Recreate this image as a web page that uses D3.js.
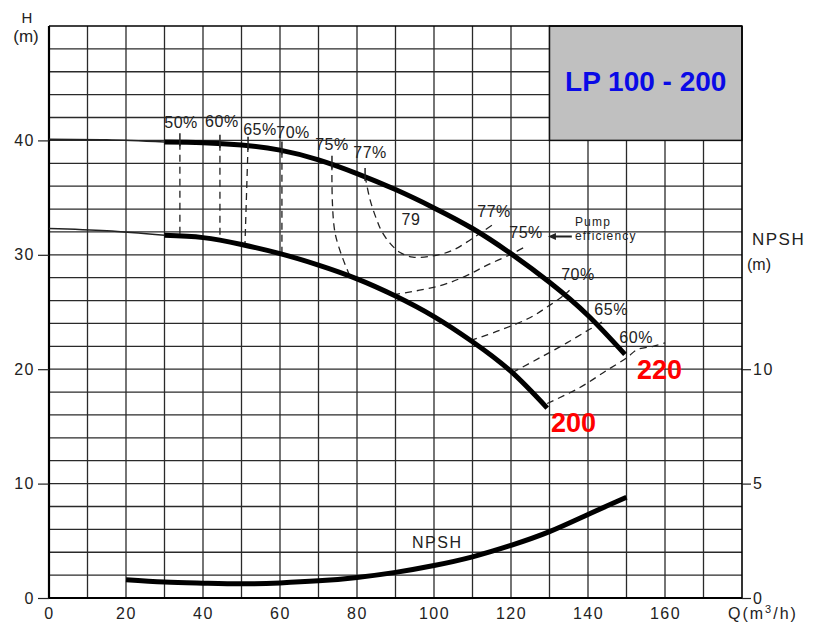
<!DOCTYPE html>
<html>
<head>
<meta charset="utf-8">
<script src="https://cdn.jsdelivr.net/npm/d3@7"></script>
<style>
  body { margin: 0; background: #fff; }
  svg { display: block; }
  text { font-family: "Liberation Sans", Arial, sans-serif; }
</style>
</head>
<body>
<svg id="chart" width="814" height="627"></svg>
<script>
// pump curves, Q in m3/h, H in m
const curve220 = [[30, 39.85], [40, 39.8], [50, 39.6], [60, 39.15], [70, 38.3], [80, 37.1], [90, 35.7],
  [100, 34.1], [110, 32.3], [120, 30.1], [130, 27.6], [140, 24.7], [149.6, 21.3]];
const curve200 = [[30, 31.7], [40, 31.5], [50, 30.9], [60, 30.1], [70, 29.1], [80, 27.9], [90, 26.4],
  [100, 24.6], [110, 22.4], [120, 19.8], [129.4, 16.6]];
// thin shut-off extensions to Q = 0
const lead220 = [[0, 40.1], [15, 40.05], [30, 39.85]];
const lead200 = [[0, 32.3], [15, 32.1], [30, 31.7]];

// NPSH required (m)
const npshQ = [20, 30, 40, 50, 60, 70, 80, 90, 100, 110, 120, 130, 140, 150];
const npshVal = [0.8, 0.7, 0.65, 0.62, 0.66, 0.75, 0.9, 1.12, 1.42, 1.8, 2.3, 2.9, 3.65, 4.4];

// iso-efficiency lines (dashed)
const effLines = [
  [[34, 39.8], [34, 31.6]],
  [[44.4, 39.7], [44.4, 31.5]],
  [[51.7, 39.6], [50.9, 30.9]],
  [[60.5, 39.1], [60.5, 30.1]],
  [[73.5, 38.0], [74.3, 31.9], [78.2, 28.1]],
  [[82.1, 36.9], [83.4, 34.8], [85.2, 33.0], [86.5, 32.0], [88.6, 31.0], [91.2, 30.2], [94.5, 29.8],
   [99.7, 29.9], [104.9, 30.4], [109.4, 31.3], [112.5, 32.0], [115.1, 32.6]],
  [[89.4, 26.5], [101.6, 27.3], [108.6, 28.2], [113.8, 29.1], [120.3, 30.1], [124.2, 30.8]],
  [[109.4, 22.5], [117.1, 23.4], [124.9, 24.5], [130.1, 25.6], [133.5, 26.4], [135.2, 26.9]],
  [[120.3, 19.7], [127.5, 21.0], [134.5, 22.3], [140, 23.4], [143.1, 24.0], [144.5, 24.4]],
  [[129.4, 17.0], [137.9, 18.4], [144.9, 19.9], [150.1, 21.0], [152.7, 21.7], [156.9, 22.0], [160, 22.3]]
];
// short ticks where the left iso-lines meet the 220 curve
const effTicksQ = [34, 44.4, 51.7, 60.5, 73.5, 82.1];

const effLabels = ["50%", "60%", "65%", "70%", "75%", "77%", "77%", "75%", "70%", "65%", "60%", "79"];
const effLabelQ = [34.3, 44.9, 54.8, 63.4, 73.5, 83.4, 115.6, 123.9, 137.4, 146, 152.5, 94];
const effLabelH = [41.1, 41.2, 40.5, 40.2, 39.2, 38.5, 33.3, 31.5, 27.8, 24.7, 22.3, 32.6];

const xTicks = [0, 20, 40, 60, 80, 100, 120, 140, 160];
const hTicks = [0, 10, 20, 30, 40];
const npshTicks = [0, 5, 10];
const title = "LP 100 - 200";

const svg = d3.select("#chart");
const x = d3.scaleLinear().domain([0, 180]).range([49, 742]);
const y = d3.scaleLinear().domain([0, 50]).range([598, 26]);
const yN = d3.scaleLinear().domain([0, 25]).range([598, 26]);
const ink = "#222";

// grid
const grid = svg.append("g").attr("stroke", "#2a2a2a").attr("stroke-width", 1.3);
grid.selectAll("line.v").data(d3.range(10, 180, 10)).join("line")
  .attr("x1", d => x(d)).attr("x2", d => x(d)).attr("y1", y(0)).attr("y2", y(50));
grid.selectAll("line.h").data(d3.range(2, 50, 2)).join("line")
  .attr("x1", x(0)).attr("x2", x(180)).attr("y1", d => y(d)).attr("y2", d => y(d));

// title box
svg.append("rect")
  .attr("x", x(130)).attr("y", y(50)).attr("width", x(180) - x(130)).attr("height", y(40) - y(50))
  .attr("fill", "#c0c0c0").attr("stroke", "#111").attr("stroke-width", 1.5);
svg.append("text")
  .attr("x", (x(130) + x(180)) / 2).attr("y", (y(50) + y(40)) / 2 + 8)
  .attr("text-anchor", "middle").attr("font-size", 28).attr("font-weight", "bold")
  .attr("fill", "#0a0ae6").text(title);

// frame
svg.append("line").attr("x1", x(0)).attr("x2", x(0)).attr("y1", y(0)).attr("y2", y(50))
  .attr("stroke", "#000").attr("stroke-width", 2.2);
svg.append("line").attr("x1", x(0)).attr("x2", x(180)).attr("y1", y(0)).attr("y2", y(0))
  .attr("stroke", "#000").attr("stroke-width", 2.2);
svg.append("line").attr("x1", x(180)).attr("x2", x(180)).attr("y1", y(0)).attr("y2", y(50))
  .attr("stroke", "#000").attr("stroke-width", 1.6);
svg.append("line").attr("x1", x(0)).attr("x2", x(180)).attr("y1", y(50)).attr("y2", y(50))
  .attr("stroke", "#000").attr("stroke-width", 1.6);

// axes
function styleAxis(g) {
  g.select(".domain").remove();
  g.selectAll("line").attr("stroke", ink).attr("stroke-width", 1.2);
  g.selectAll("text").attr("fill", ink).attr("font-size", 16).attr("letter-spacing", 1.5)
    .attr("font-family", "Liberation Sans, Arial, sans-serif");
}
svg.append("g").attr("transform", `translate(0,${y(0)})`)
  .call(d3.axisBottom(x).tickValues(xTicks).tickSize(0).tickPadding(10))
  .call(styleAxis);
svg.append("g").attr("transform", `translate(${x(0)},0)`)
  .call(d3.axisLeft(y).tickValues(hTicks).tickSize(11).tickPadding(3))
  .call(styleAxis);
svg.append("g").attr("transform", `translate(${x(180)},0)`)
  .call(d3.axisRight(yN).tickValues(npshTicks).tickSize(9).tickPadding(2))
  .call(styleAxis);

// axis titles
svg.append("text").attr("x", 27).attr("y", 23).attr("text-anchor", "middle")
  .attr("font-size", 15).attr("fill", ink).text("H");
svg.append("text").attr("x", 26).attr("y", 42).attr("text-anchor", "middle")
  .attr("font-size", 17).attr("fill", ink).text("(m)");
svg.append("text").attr("x", 752).attr("y", 245).attr("font-size", 17).attr("fill", ink)
  .attr("letter-spacing", 1.5).text("NPSH");
svg.append("text").attr("x", 747).attr("y", 270).attr("font-size", 16).attr("fill", ink).text("(m)");
const qLab = svg.append("text").attr("x", 728).attr("y", 619).attr("font-size", 16).attr("fill", ink)
  .attr("letter-spacing", 2);
qLab.append("tspan").text("Q(m");
qLab.append("tspan").attr("dy", -6).attr("font-size", 11).text("3");
qLab.append("tspan").attr("dy", 6).text("/h)");

const line = d3.line().x(d => x(d[0])).y(d => y(d[1])).curve(d3.curveCatmullRom.alpha(0.5));
const smooth = d3.line().x(d => x(d[0])).y(d => y(d[1])).curve(d3.curveNatural);

// iso-efficiency lines
svg.append("g").selectAll("path").data(effLines).join("path")
  .attr("d", line).attr("fill", "none").attr("stroke", ink).attr("stroke-width", 1.3)
  .attr("stroke-dasharray", "7,5");

// head curves
svg.selectAll("path.lead").data([lead220, lead200]).join("path").attr("class", "lead")
  .attr("d", smooth).attr("fill", "none").attr("stroke", ink).attr("stroke-width", 1.5);
svg.selectAll("path.head").data([curve220, curve200]).join("path").attr("class", "head")
  .attr("d", smooth).attr("fill", "none").attr("stroke", "#000").attr("stroke-width", 5);

// ticks on the 220 curve
const h220 = d3.scaleLinear().domain(curve220.map(d => d[0])).range(curve220.map(d => d[1]));
svg.append("g").selectAll("line").data(effTicksQ).join("line")
  .attr("x1", d => x(d)).attr("x2", d => x(d))
  .attr("y1", d => y(h220(d)) - 9).attr("y2", d => y(h220(d)) + 4)
  .attr("stroke", ink).attr("stroke-width", 1.5);

// NPSH curve
const npshLine = d3.line().x((d, i) => x(npshQ[i])).y(d => yN(d)).curve(d3.curveNatural);
svg.append("path").attr("d", npshLine(npshVal)).attr("fill", "none")
  .attr("stroke", "#000").attr("stroke-width", 5);
svg.append("text").attr("x", x(94.3)).attr("y", yN(2.19)).attr("font-size", 16).attr("fill", ink)
  .attr("letter-spacing", 1.5).text("NPSH");

// efficiency labels
svg.append("g").selectAll("text").data(effLabels).join("text")
  .attr("x", (d, i) => x(effLabelQ[i])).attr("y", (d, i) => y(effLabelH[i]))
  .attr("text-anchor", "middle").attr("font-size", 16).attr("fill", ink)
  .attr("letter-spacing", 0.5).text(d => d);

// pump efficiency note with arrow
svg.append("text").attr("x", x(136.6)).attr("y", y(32.5)).attr("font-size", 12).attr("fill", ink)
  .attr("letter-spacing", 1.2).text("Pump");
svg.append("text").attr("x", x(136.6)).attr("y", y(31.3)).attr("font-size", 12).attr("fill", ink)
  .attr("letter-spacing", 1.2).text("efficiency");
svg.append("line").attr("x1", x(135.8)).attr("x2", x(131)).attr("y1", y(31.6)).attr("y2", y(31.6))
  .attr("stroke", ink).attr("stroke-width", 2);
svg.append("path")
  .attr("d", `M${x(129.6)},${y(31.6)}l8,-3.5v7z`).attr("fill", ink);

// impeller diameters
svg.append("text").attr("x", x(130.4)).attr("y", y(14.5)).attr("font-size", 27).attr("font-weight", "bold")
  .attr("fill", "#ff0000").text("200");
svg.append("text").attr("x", x(152.7)).attr("y", y(19.1)).attr("font-size", 27).attr("font-weight", "bold")
  .attr("fill", "#ff0000").text("220");
</script>
</body>
</html>
